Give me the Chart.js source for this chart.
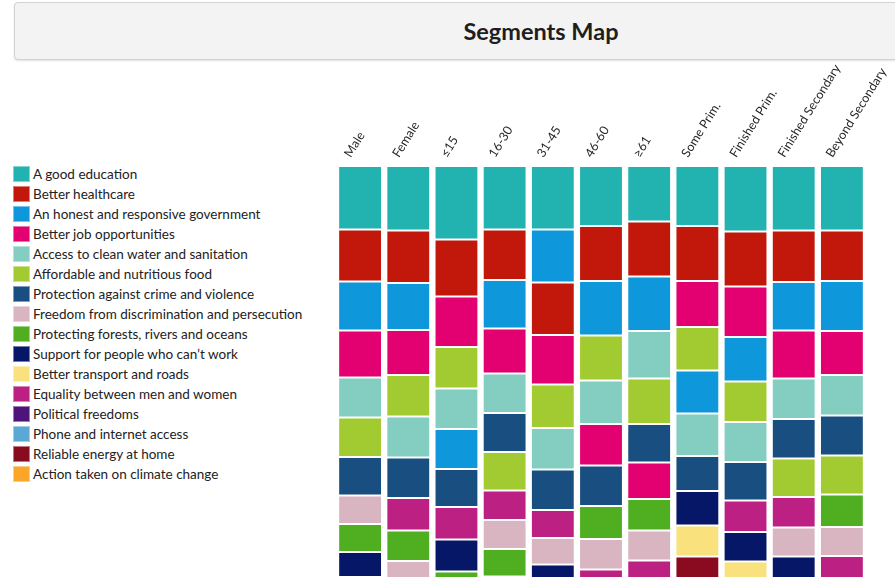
<!DOCTYPE html>
<html>
<head>
<meta charset="utf-8">
<title>Segments Map</title>
<script src="https://cdn.jsdelivr.net/npm/chart.js@4.4.1/dist/chart.umd.min.js"></script>
<style>
    body { margin: 0; width: 895px; height: 577px; overflow: hidden; background: #fff; font-family: Lato, "Open Sans", sans-serif; }
    .title-box {
        position: absolute; left: 14px; top: 2px; width: 1052px; height: 56px;
        background: #f3f3f3; border: 1px solid #d2d2d2; border-radius: 4px;
        box-shadow: 0 1px 2px rgba(0,0,0,0.12);
        display: flex; align-items: center; justify-content: center;
        font-size: 23.5px; font-weight: bold; color: #1e1e1e;
    }
    #chart { position: absolute; left: 0; top: 0; }
    .legend { position: absolute; left: 13px; top: 166px; }
    .legend-item { height: 20px; display: flex; align-items: flex-start; font-size: 13.5px; color: #222; }
    .legend-swatch { width: 17px; height: 16px; margin-right: 3px; box-sizing: border-box; border: 1px solid rgba(255,255,255,0.45); }
    .legend-item span { line-height: 16px; }
</style>
</head>
<body>
<div class="title-box">Segments Map</div>
<div class="legend" id="legend"></div>
<canvas id="chart" width="895" height="577"></canvas>

<script>
// Columns (segments)
const columnLabels = ['Male', 'Female', '≤15', '16-30', '31-45', '46-60', '≥61',
    'Some Prim.', 'Finished Prim.', 'Finished Secondary', 'Beyond Secondary'];

// Priorities (legend order)
const categoryLabels = [
    'A good education',
    'Better healthcare',
    'An honest and responsive government',
    'Better job opportunities',
    'Access to clean water and sanitation',
    'Affordable and nutritious food',
    'Protection against crime and violence',
    'Freedom from discrimination and persecution',
    'Protecting forests, rivers and oceans',
    'Support for people who can\u2019t work',
    'Better transport and roads',
    'Equality between men and women',
    'Political freedoms',
    'Phone and internet access',
    'Reliable energy at home',
    'Action taken on climate change'
];

const categoryColors = [
    '#22B2AF', '#C1180B', '#0E97DA', '#E30070', '#84CDC1', '#A2CA31', '#184F80', '#D9B4C1',
    '#4FAF21', '#061767', '#F9E27D', '#BC2083', '#4F1479', '#5BA8D4', '#8A0A1F', '#FBA628'
];

// Share of votes (%) per column, one array per priority
const education      = [12.7, 12.9, 14.7, 12.7, 12.7, 12.0, 11.1, 12.0, 13.1, 12.9, 12.9];
const healthcare     = [10.4, 10.5, 11.4, 10.1, 10.5, 11.0, 11.0, 11.0, 11.0, 10.3, 10.1];
const government     = [9.8, 9.4, 8.0, 9.7, 10.6, 10.9, 10.9, 8.6, 8.9, 9.7, 10.0];
const jobs           = [9.4, 9.0, 10.1, 9.0, 9.9, 8.3, 7.3, 9.2, 10.1, 9.6, 8.8];
const water          = [8.0, 8.2, 8.1, 7.9, 8.3, 8.7, 9.5, 8.5, 8.0, 8.1, 8.1];
const food           = [7.9, 8.3, 8.3, 7.7, 8.7, 9.0, 9.1, 8.7, 8.1, 7.7, 7.8];
const crime          = [7.7, 8.1, 7.6, 7.8, 8.1, 8.1, 7.7, 7.0, 7.7, 7.9, 8.0];
const discrimination = [5.7, 5.6, 4.4, 5.8, 5.3, 6.1, 6.0, 5.0, 5.1, 5.8, 5.8];
const forests        = [5.6, 6.1, 6.0, 5.5, 4.5, 6.6, 6.3, 4.6, 4.4, 5.0, 6.5];
const support        = [5.0, 4.5, 6.4, 4.8, 4.9, 4.7, 5.1, 6.9, 5.9, 5.4, 4.9];
const transport      = [3.9, 3.4, 2.2, 3.8, 3.6, 3.2, 4.0, 6.2, 5.5, 3.7, 3.0];
const equality       = [4.6, 6.5, 6.5, 5.9, 5.6, 5.5, 5.5, 3.6, 6.3, 6.1, 5.3];
const political      = [2.5, 2.0, 1.3, 2.4, 1.9, 1.1, 1.2, 1.0, 1.0, 2.1, 2.3];
const phone          = [3.2, 2.6, 2.9, 3.3, 2.8, 1.6, 1.6, 1.5, 1.5, 3.0, 3.6];
const energy         = [2.2, 1.6, 1.1, 2.0, 1.5, 2.3, 2.7, 5.5, 2.6, 1.5, 1.2];
const climate        = [1.8, 1.3, 1.0, 1.6, 1.1, 0.9, 1.0, 0.7, 0.8, 1.2, 1.7];

const categoryValues = [education, healthcare, government, jobs, water, food, crime, discrimination,
    forests, support, transport, equality, political, phone, energy, climate];

// Visible part of the stack (the rest runs off the bottom of the page)
const visibleMax = 82.2;

// Build legend
function buildLegend() {
    const legend = document.getElementById('legend');
    legend.innerHTML = categoryLabels.map((label, i) => `
        <div class="legend-item">
            <div class="legend-swatch" style="background:${categoryColors[i]}"></div>
            <span>${label}</span>
        </div>
    `).join('');
}

// Each column is sorted by value, so one dataset per rank
function buildRankDatasets() {
    const orders = columnLabels.map((_, col) => {
        const idx = categoryValues.map((_, i) => i);
        return idx.sort((a, b) => categoryValues[b][col] - categoryValues[a][col]);
    });

    return categoryValues.map((_, rank) => ({
        label: 'Rank ' + (rank + 1),
        data: orders.map((order, col) => categoryValues[order[rank]][col]),
        backgroundColor: orders.map(order => categoryColors[order[rank]]),
        borderColor: 'rgba(255,255,255,0.35)',
        borderWidth: 1,
        borderSkipped: false,
        categoryPercentage: 1,
        barPercentage: 0.91
    }));
}

function initializeChart() {
    const ctx = document.getElementById('chart').getContext('2d');
    new Chart(ctx, {
        type: 'bar',
        data: {
            labels: columnLabels,
            datasets: buildRankDatasets()
        },
        options: {
            responsive: false,
            animation: false,
            layout: {
                padding: { left: 336, right: 29, top: 60, bottom: 0 }
            },
            plugins: {
                legend: { display: false },
                tooltip: { enabled: false }
            },
            scales: {
                x: {
                    stacked: true,
                    position: 'top',
                    grid: { display: false },
                    border: { display: false },
                    ticks: {
                        minRotation: 58,
                        maxRotation: 58,
                        padding: -2,
                        labelOffset: 0,
                        color: '#262626',
                        font: { family: 'Lato', size: 12.5 }
                    },
                    afterFit: (scale) => {
                        // fixed label band, no extra side padding for rotated labels
                        scale.height = 106;
                        scale.paddingLeft = 0;
                        scale.paddingRight = 0;
                    }
                },
                y: {
                    stacked: true,
                    reverse: true,
                    display: false,
                    min: 0,
                    max: visibleMax
                }
            }
        }
    });
}

buildLegend();
initializeChart();
</script>
</body>
</html>
